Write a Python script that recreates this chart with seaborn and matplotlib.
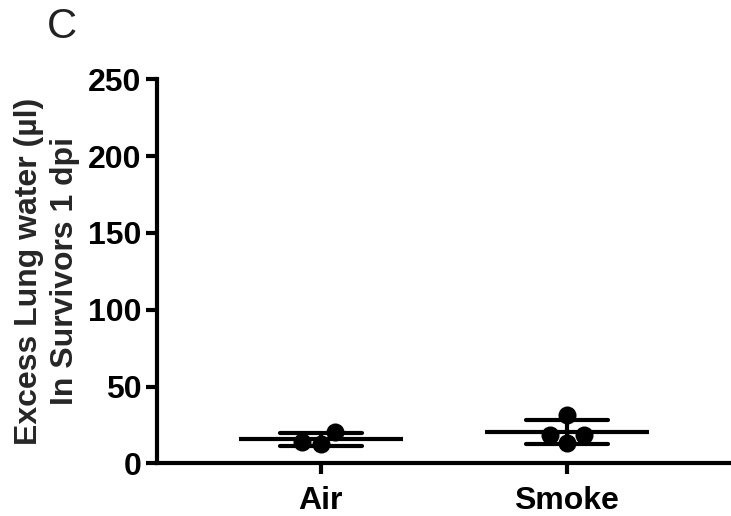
import matplotlib
matplotlib.use("Agg")
import matplotlib.pyplot as plt
import seaborn as sns
import pandas as pd

# Excess lung water (µl) in survivors at 1 dpi
groups = ["Air", "Smoke"]
air_values = [20.4, 12.4, 13.9]
smoke_values = [31.7, 18.7, 18.7, 13.5]
y_ticks = [0, 50, 100, 150, 200, 250]

df = pd.DataFrame({
    "group": ["Air"] * len(air_values) + ["Smoke"] * len(smoke_values),
    "water": air_values + smoke_values,
})

sns.set_style("ticks")
plt.rcParams["font.family"] = ["Liberation Sans", "DejaVu Sans"]

fig = plt.figure(figsize=(7.31, 5.16), dpi=100)
ax = fig.add_axes([0.2144, 0.1021, 0.7843, 0.7442])

# mean line with SD whiskers
sns.pointplot(data=df, x="group", y="water", order=groups, errorbar="sd",
              color="black", linestyle="none", marker="_", markersize=118,
              markeredgewidth=3, capsize=0.333,
              err_kws={"linewidth": 3}, ax=ax, zorder=3)

# individual animals
sns.swarmplot(data=df, x="group", y="water", order=groups, color="black",
              size=13, ax=ax, zorder=4)

ax.set_xlim(-0.667, 1.664)
ax.set_ylim(0, 250)
ax.set_yticks(y_ticks)
ax.set_xlabel("")
ax.set_ylabel("Excess Lung water (\u00b5l)\nIn Survivors 1 dpi", fontsize=23,
              fontweight="bold", linespacing=1.25, labelpad=6)

for side in ("top", "right"):
    ax.spines[side].set_visible(False)
for side in ("left", "bottom"):
    ax.spines[side].set_linewidth(3)
    ax.spines[side].set_color("black")

ax.tick_params(axis="y", length=8, width=3, labelsize=23, pad=3, colors="black")
ax.tick_params(axis="x", length=8, width=3, labelsize=23, pad=8, colors="black")
for lab in ax.get_xticklabels() + ax.get_yticklabels():
    lab.set_fontweight("bold")

# panel letter
fig.text(0.064, 0.926, "C", fontsize=30, va="baseline", ha="left",
         color="#222222")

fig.savefig("out.png", dpi=100)
